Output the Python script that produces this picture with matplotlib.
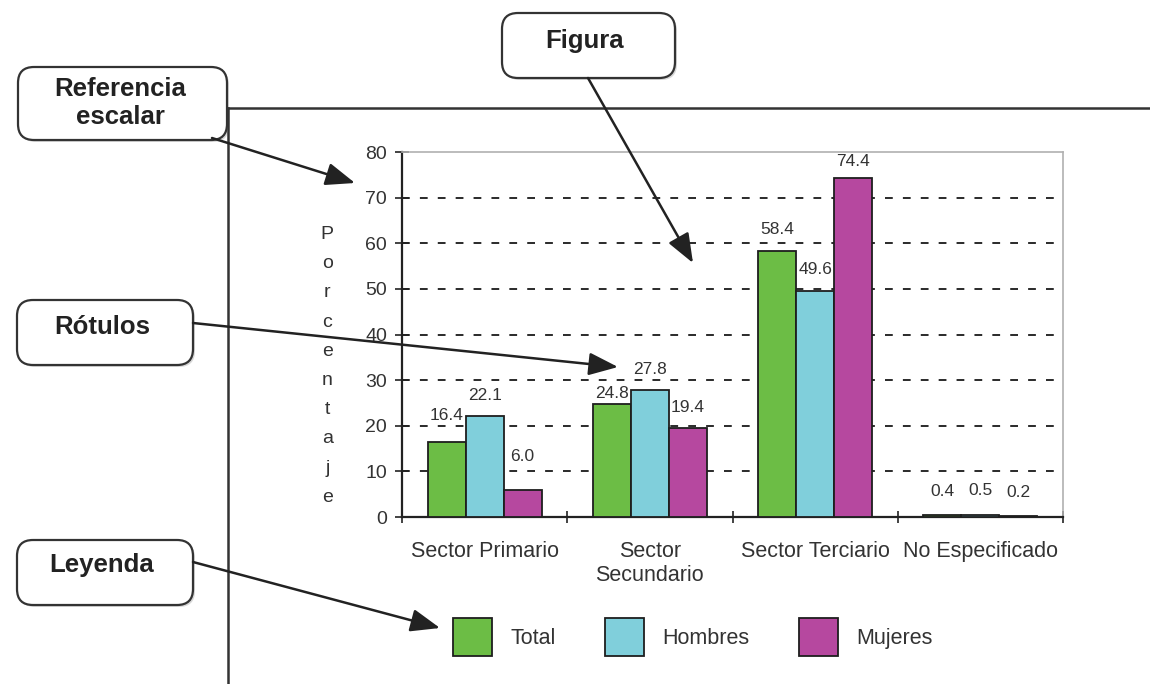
#!/usr/bin/env python3

import matplotlib
matplotlib.use("Agg")
import matplotlib.pyplot as plt
from matplotlib.patches import FancyBboxPatch
import numpy as np

# data
categories = ["Sector Primario", "Sector\nSecundario", "Sector Terciario", "No Especificado"]
series_names = ["Total", "Hombres", "Mujeres"]
total = [16.4, 24.8, 58.4, 0.4]
hombres = [22.1, 27.8, 49.6, 0.5]
mujeres = [6.0, 19.4, 74.4, 0.2]
ylabel = "Porcentaje"

callouts = ["Referencia\nescalar", "Figura", "Rótulos", "Leyenda"]

# styling
colors = ["#6cbd45", "#80cfdb", "#b6489f"]
# vertical offset (pixels) of each value label above its bar
label_dy = [[27, 10, 21, 24], [21, 21, 21, 24], [33, 21, 16, 24]]

W, H = 1150, 684
plt.rcParams['font.family'] = ['Liberation Sans', 'DejaVu Sans']

fig = plt.figure(figsize=(W / 100, H / 100), dpi=100)
ax = fig.add_axes([402 / W, 1 - 517 / H, 661 / W, 365 / H])

x = np.arange(len(categories))
width = 0.23
handles = []
for i, (name, vals, col, dys) in enumerate(zip(series_names, [total, hombres, mujeres], colors, label_dy)):
    bars = ax.bar(x + (i - 1) * width, vals, width, color=col, edgecolor="#1e1e1e",
                  linewidth=1.3, label=name, zorder=3)
    handles.append(bars)
    for b, v, dy in zip(bars, vals, dys):
        ax.annotate(f"{v:.1f}", (b.get_x() + b.get_width() / 2, v), xytext=(0, dy),
                    textcoords="offset pixels", ha="center", va="center",
                    fontsize=12.5, color="#333333", zorder=4)

ax.set_xlim(-0.5, len(categories) - 0.5)
ax.set_ylim(0, 80)
ax.set_yticks(np.arange(0, 81, 10))
for y in ax.get_yticks()[1:-1]:
    ax.axhline(y, color="#2a2a2a", lw=1.4, ls=(0, (4, 5.2)), zorder=1)

ax.set_xticks(np.arange(-0.5, len(categories), 1))
ax.set_xticklabels([])
ax.set_xticks(x, minor=True)
ax.set_xticklabels(categories, minor=True, fontsize=15.5, color="#333333", linespacing=1.2)
ax.tick_params(axis="x", which="minor", length=0, pad=17)
ax.tick_params(axis="x", which="major", direction="inout", length=8, width=1.2, color="#222222")
ax.tick_params(axis="y", direction="inout", length=9.5, width=1.2, color="#222222",
               labelsize=14, labelcolor="#333333", pad=6)

for s in ["top", "right"]:
    ax.spines[s].set_color("#b0b0b0")
    ax.spines[s].set_linewidth(1.2)
for s in ["left", "bottom"]:
    ax.spines[s].set_color("#222222")
    ax.spines[s].set_linewidth(1.6)

ax.set_ylabel("\n".join(ylabel), rotation=0, fontsize=14, color="#333333",
              linespacing=1.94, va="center", ha="center")
ax.yaxis.set_label_coords(-0.113, 0.414)

fig.legend(handles, series_names, loc="center", bbox_to_anchor=(693 / W, 1 - 637 / H),
           ncol=3, frameon=False, fontsize=15.5, handlelength=1.8, handleheight=2.4,
           handletextpad=0.85, columnspacing=2.3, labelcolor="#333333")

# overlay for the annotation diagram (pixel coordinates)
ov = fig.add_axes([0, 0, 1, 1], zorder=10)
ov.set_xlim(0, W)
ov.set_ylim(H, 0)
ov.axis("off")
ov.patch.set_alpha(0)

ov.plot([228, W], [108, 108], color="#333333", lw=1.8, clip_on=False)
ov.plot([228, 228], [108, H], color="#333333", lw=1.8, clip_on=False)

boxes = [(18, 67, 209, 73), (502, 13, 173, 65), (17, 300, 176, 65), (17, 540, 176, 65)]
text_pos = [(120, 103), (585, 41), (102, 327), (102, 565)]
arrows = [((212, 138), (355, 183)), ((588, 78), (693, 263)),
          ((193, 323), (618, 367)), ((193, 562), (440, 628))]

for (bx, by, bw, bh), (tx, ty), txt in zip(boxes, text_pos, callouts):
    ov.add_patch(FancyBboxPatch((bx + 2, by + 2), bw, bh, boxstyle="round,pad=0,rounding_size=16",
                                fc="#d8d8d8", ec="none", zorder=1))
    ov.add_patch(FancyBboxPatch((bx, by), bw, bh, boxstyle="round,pad=0,rounding_size=16",
                                fc="white", ec="#333333", lw=1.6, zorder=2))
    ov.text(tx, ty, txt, ha="center", va="center", fontsize=18.5, fontweight="bold",
            color="#222222", linespacing=1.2, zorder=3)

for start, tip in arrows:
    ov.annotate("", xy=tip, xytext=start,
                arrowprops=dict(arrowstyle="-|>,head_length=0.9,head_width=0.35",
                                mutation_scale=20, color="#222222", lw=1.8,
                                shrinkA=0, shrinkB=0), zorder=4)

fig.savefig("out.png", dpi=100)
